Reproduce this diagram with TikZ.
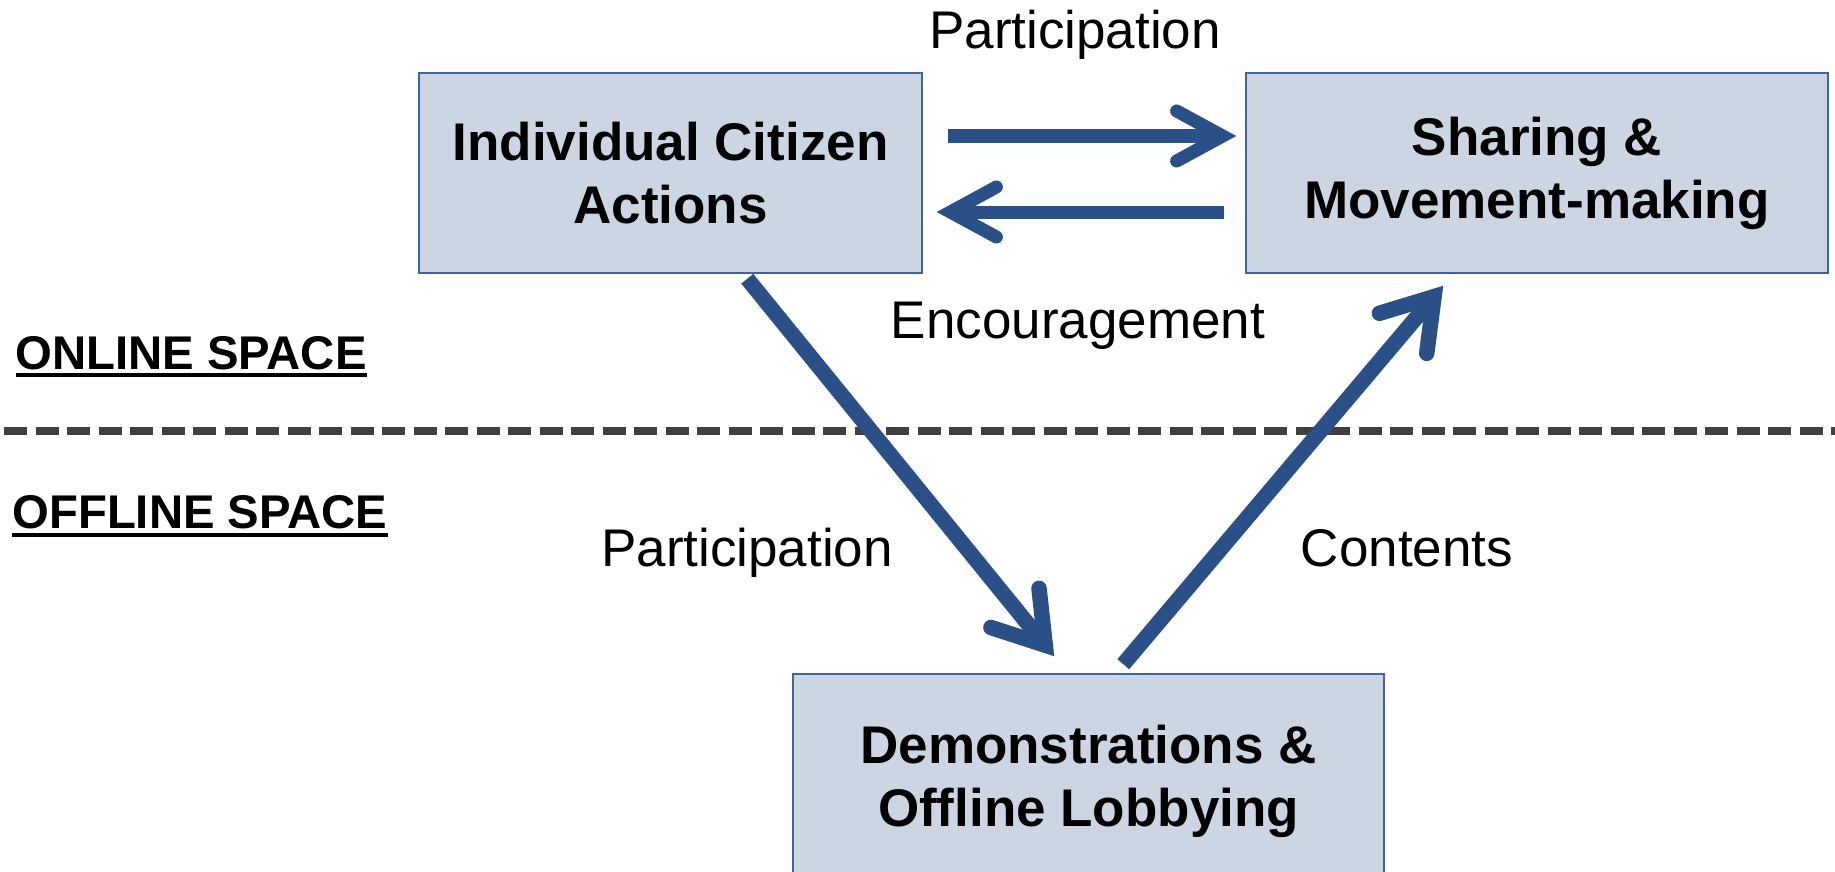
\documentclass[tikz,border=0pt]{standalone}
\usepackage{fontspec}
\setmainfont{Liberation Sans}
\usetikzlibrary{arrows.meta,calc}
\definecolor{boxfill}{RGB}{204,214,227}
\definecolor{boxline}{RGB}{65,100,160}
\definecolor{arrowblue}{RGB}{43,79,135}
\definecolor{dashgrey}{RGB}{64,64,64}
\begin{document}
\begin{tikzpicture}[x=0.5pt,y=-0.5pt,
  box/.style={draw=boxline, line width=0.75pt, fill=boxfill, align=center, inner sep=0pt,
    font=\bfseries\fontsize{26.5}{31.5}\selectfont},
  lbl/.style={font=\fontsize{26.5}{31.5}\selectfont, inner sep=0pt, anchor=base},
  spacelbl/.style={font=\bfseries\fontsize{23.65}{28}\selectfont, inner sep=0pt, anchor=base west},
  uline/.style={line width=2pt, draw=black},
  harr/.style={draw=arrowblue, line width=6.5pt,
    -{Straight Barb[length=23pt,width=25pt,line cap=round,line join=miter]}},
  darr/.style={draw=arrowblue, line width=7.75pt,
    -{Straight Barb[length=24pt,width=31pt,line cap=round,line join=miter]}},
  divider/.style={draw=dashgrey, line width=4pt, dash pattern=on 11.5pt off 4.25pt}]
\useasboundingbox (0,0) rectangle (1835,872);
\clip (0,0) rectangle (1835,872);
% divider
\coordinate (dl) at (4,431);
\coordinate (dr) at (1835,431);
\draw[divider] (dl) -- (dr);
% boxes
\node[box, minimum width=251.5pt, minimum height=100pt] (b1) at (670.5,173) {Individual Citizen\\Actions};
\node[box, minimum width=291pt, minimum height=100pt] (b2) at (1537,173) {Sharing \&\\Movement-making};
\node[box, minimum width=295.5pt, minimum height=107pt] (b3) at (1088.5,781) {Demonstrations \&\\Offline Lobbying};
% labels
\node[lbl] (p1) at (1075,49) {Participation};
\node[lbl] (enc) at (1078,338) {Encouragement};
\node[lbl] (p2) at (747,566) {Participation};
\node[lbl] (cont) at (1407,566) {Contents};
\node[spacelbl] (online) at (15,369) {ONLINE SPACE};
\node[spacelbl] (offline) at (12,528) {OFFLINE SPACE};
\draw[uline] ($(online.base west)+(1,6)$) -- ($(online.base east)+(0,6)$);
\draw[uline] ($(offline.base west)+(0,7)$) -- ($(offline.base east)+(0,7)$);
% arrows
\draw[harr] ($(b1.east)+(25,-37)$) -- ($(b2.west)+(-9,-37)$);
\draw[harr] ($(b2.west)+(-21,39)$) -- ($(b1.east)+(14,39)$);
\draw[darr] ($(b1.south west)+(329,5)$) -- ($(b3.north west)+(262,-17)$);
\draw[darr] ($(b3.north west)+(331,-9)$) -- ($(b2.south west)+(198,12)$);
\end{tikzpicture}
\end{document}
